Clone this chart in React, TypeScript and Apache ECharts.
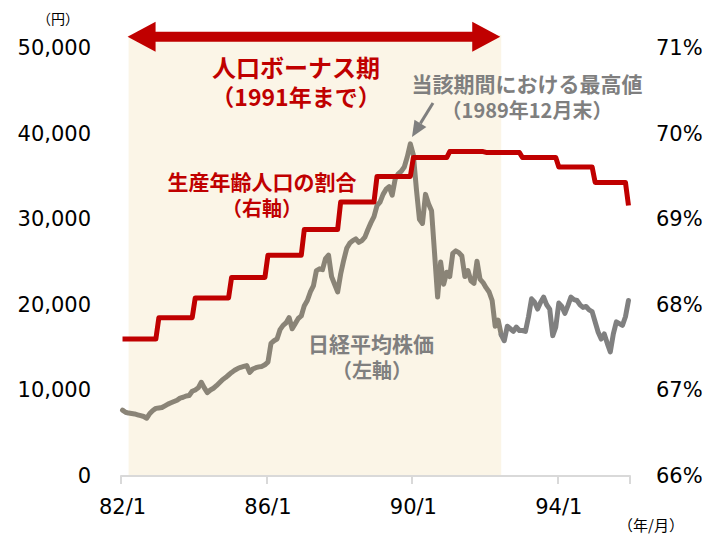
import React, { useEffect, useRef } from "react";
import * as echarts from "echarts";

// Years shown (two-digit), months 1..12 → categories "82/1" ... "95/12"
const YEARS = [82, 83, 84, 85, 86, 87, 88, 89, 90, 91, 92, 93, 94, 95];
const MONTHS = [1, 2, 3, 4, 5, 6, 7, 8, 9, 10, 11, 12];
const CATEGORIES: string[] = [];
YEARS.forEach((y) => MONTHS.forEach((m) => CATEGORIES.push(`${y}/${m}`)));

// Nikkei average, month-end (yen)
const NIKKEI_82 = [7700, 7450, 7350, 7300, 7250, 7150, 7050, 6950, 6750, 7300, 7650, 7900];
const NIKKEI_83 = [7950, 8000, 8200, 8400, 8550, 8700, 8850, 9100, 9200, 9350, 9400, 9900];
const NIKKEI_84 = [10050, 10300, 10950, 10300, 9750, 10050, 10250, 10550, 10900, 11250, 11500, 11800];
const NIKKEI_85 = [12100, 12350, 12550, 12700, 12800, 12900, 12100, 12500, 12650, 12750, 12800, 13000];
const NIKKEI_86 = [13300, 15500, 15800, 16000, 17100, 17600, 17900, 18500, 17200, 17800, 18400, 18700];
const NIKKEI_87 = [19900, 20500, 21500, 22200, 24000, 24200, 24100, 25400, 25800, 23300, 22400, 21500];
const NIKKEI_88 = [23600, 25200, 26600, 27200, 27500, 27700, 27300, 27500, 27900, 28800, 29600, 30300];
const NIKKEI_89 = [31600, 32000, 32900, 33500, 33800, 32800, 34700, 35300, 35600, 36100, 37300, 38800];
const NIKKEI_90 = [37500, 33500, 30000, 29500, 32900, 31800, 31000, 26000, 20900, 25000, 22400, 23800];
const NIKKEI_91 = [23300, 26000, 26300, 26100, 25700, 23300, 24000, 22800, 22500, 25100, 23000, 22600];
const NIKKEI_92 = [22000, 21500, 20500, 17500, 18200, 16500, 15800, 17500, 17200, 16900, 17400, 17000];
const NIKKEI_93 = [17000, 16900, 18600, 20700, 20300, 19500, 20300, 20900, 20000, 19500, 16400, 17400];
const NIKKEI_94 = [20200, 19800, 19000, 19900, 20900, 20600, 20500, 20000, 19700, 19800, 19400, 19200];
const NIKKEI_95 = [18000, 16800, 16000, 16600, 15500, 14500, 16600, 18000, 17800, 17600, 18600, 20500];
const NIKKEI = [
  ...NIKKEI_82, ...NIKKEI_83, ...NIKKEI_84, ...NIKKEI_85, ...NIKKEI_86, ...NIKKEI_87, ...NIKKEI_88,
  ...NIKKEI_89, ...NIKKEI_90, ...NIKKEI_91, ...NIKKEI_92, ...NIKKEI_93, ...NIKKEI_94, ...NIKKEI_95,
];

// Working-age population share (%) per year, and the final (95/12) value
const RATIO_LEVELS = [67.6, 67.85, 68.08, 68.32, 68.58, 68.88, 69.2, 69.5, 69.72, 69.79, 69.78, 69.72, 69.61, 69.43];
const RATIO_LAST = 69.16;

// Y axis ticks
const LEFT_MIN = 0, LEFT_MAX = 50000, LEFT_STEP = 10000;
const RIGHT_MIN = 66, RIGHT_MAX = 71, RIGHT_STEP = 1;

// Shaded period (population bonus) in categories
const BONUS_START = "82/3";
const BONUS_END = "92/6";

const RED = "#c00000";
const GRAY = "#7f7f7f";

export default function App() {
  const ref = useRef<HTMLDivElement>(null);
  useEffect(() => {
    if (!ref.current) return;
    const chart = echarts.init(ref.current, undefined, { renderer: "svg" });

    const ratioPoints: [string, number][] = [];
    YEARS.forEach((y, i) => {
      ratioPoints.push([`${y}/1`, RATIO_LEVELS[i]]);
      if (i === YEARS.length - 1) {
        ratioPoints.push([`${y}/11`, RATIO_LEVELS[i]]);
        ratioPoints.push([`${y}/12`, RATIO_LAST]);
      } else {
        ratioPoints.push([`${y}/12`, RATIO_LEVELS[i]]);
      }
    });

    const splitIdx = CATEGORIES.indexOf(BONUS_END);
    const nikkeiIn = NIKKEI.map((v, i) => (i <= splitIdx ? v : null));
    const nikkeiOut = NIKKEI.map((v, i) => (i >= splitIdx ? v : null));

    const labelFont = { fontFamily: "DejaVu Sans", fontSize: 21, color: "#000" };

    chart.setOption({
      animation: false,
      grid: { left: 121, right: 86, top: 48, bottom: 60 },
      xAxis: {
        type: "category",
        data: CATEGORIES,
        boundaryGap: true,
        axisLine: { lineStyle: { color: "#d9d9d9", width: 2 } },
        axisTick: { show: true, interval: 47, length: 8, lineStyle: { color: "#d9d9d9", width: 2 } },
        axisLabel: { ...labelFont, interval: 47, margin: 20 },
        splitLine: { show: false },
      },
      yAxis: [
        {
          type: "value",
          min: LEFT_MIN,
          max: LEFT_MAX,
          interval: LEFT_STEP,
          axisLine: { show: false },
          axisTick: { show: false },
          splitLine: { show: false },
          axisLabel: {
            ...labelFont,
            margin: 30,
            formatter: (v: number) => v.toLocaleString("en-US"),
          },
        },
        {
          type: "value",
          min: RIGHT_MIN,
          max: RIGHT_MAX,
          interval: RIGHT_STEP,
          axisLine: { show: false },
          axisTick: { show: false },
          splitLine: { show: false },
          axisLabel: { ...labelFont, margin: 26, formatter: "{value}%" },
        },
      ],
      series: [
        {
          name: "生産年齢人口の割合",
          type: "line",
          yAxisIndex: 1,
          data: ratioPoints,
          symbol: "none",
          lineStyle: { color: RED, width: 5, join: "round" },
          z: 4,
        },
        {
          name: "日経平均株価",
          type: "line",
          yAxisIndex: 0,
          data: nikkeiIn,
          symbol: "none",
          connectNulls: false,
          lineStyle: { color: "#8a8477", width: 5, join: "round", cap: "round" },
          z: 3,
        },
        {
          name: "日経平均株価2",
          type: "line",
          yAxisIndex: 0,
          data: nikkeiOut,
          symbol: "none",
          connectNulls: false,
          lineStyle: { color: "#808080", width: 5, join: "round", cap: "round" },
          z: 3,
        },
      ],
    });

    const x1 = chart.convertToPixel({ xAxisIndex: 0 }, BONUS_START) as number;
    const x2 = chart.convertToPixel({ xAxisIndex: 0 }, BONUS_END) as number;
    const yBottom = chart.convertToPixel({ yAxisIndex: 0 }, LEFT_MIN) as number;
    const shadeTop = 35;

    const aY = 36.7, head = 28, half = 15, shaft = 5;
    const aL = x1 - 1, aR = x2 - 1;

    const cjk = '"Noto Sans CJK JP", "Noto Sans", sans-serif';
    const txt = (text: string, x: number, y: number, size: number, fill: string, bold = true) => ({
      type: "text",
      z: 10,
      style: {
        text,
        x,
        y,
        align: "center",
        verticalAlign: "middle",
        fontSize: size,
        fontWeight: bold ? "bold" : "normal",
        fontFamily: cjk,
        fill,
      },
    });

    // gray pointer arrow
    const tail = [433, 103], tip = [412, 137];
    const dx = tip[0] - tail[0], dy = tip[1] - tail[1];
    const len = Math.hypot(dx, dy);
    const ux = dx / len, uy = dy / len;
    const hl = 16, hw = 7;
    const bx = tip[0] - ux * hl, by = tip[1] - uy * hl;

    chart.setOption({
      graphic: [
        {
          type: "rect",
          z: -10,
          shape: { x: x1, y: shadeTop, width: x2 - x1, height: yBottom - shadeTop },
          style: { fill: "#fbf5e7" },
        },
        {
          type: "polygon",
          z: 10,
          shape: {
            points: [
              [aL, aY],
              [aL + head, aY - half],
              [aL + head, aY - shaft],
              [aR - head, aY - shaft],
              [aR - head, aY - half],
              [aR, aY],
              [aR - head, aY + half],
              [aR - head, aY + shaft],
              [aL + head, aY + shaft],
              [aL + head, aY + half],
            ],
          },
          style: { fill: RED },
        },
        {
          type: "line",
          z: 10,
          shape: { x1: tail[0], y1: tail[1], x2: bx, y2: by },
          style: { stroke: GRAY, lineWidth: 3 },
        },
        {
          type: "polygon",
          z: 10,
          shape: {
            points: [
              tip,
              [bx - uy * hw, by + ux * hw],
              [bx + uy * hw, by - ux * hw],
            ],
          },
          style: { fill: GRAY },
        },
        txt("人口ボーナス期", 296, 66, 24, RED),
        txt("（1991年まで）", 296, 96, 23, RED),
        txt("当該期間における最高値", 527, 83, 21, GRAY),
        txt("（1989年12月末）", 527, 109.5, 20, GRAY),
        txt("生産年齢人口の割合", 262, 180.5, 21, RED),
        txt("（右軸）", 262, 207, 20, RED),
        txt("日経平均株価", 371, 342.5, 21, GRAY),
        txt("（左軸）", 372, 369, 20, GRAY),
        txt("（円）", 58, 18, 14, "#000", false),
        txt("（年/月）", 651, 524, 15, "#000", false),
      ],
    });

    return () => chart.dispose();
  }, []);

  return (
    <div
      ref={ref}
      style={{ position: "fixed", left: 0, top: 0, width: 716, height: 536, background: "#fff" }}
    />
  );
}
